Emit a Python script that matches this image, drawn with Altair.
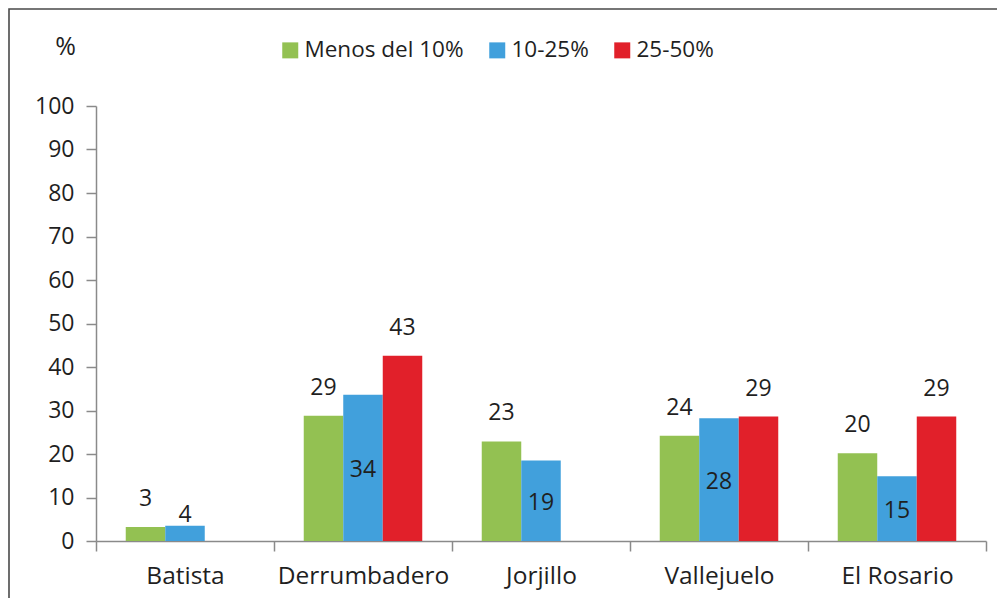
import altair as alt
import pandas as pd

categories = ["Batista", "Derrumbadero", "Jorjillo", "Vallejuelo", "El Rosario"]
series = ["Menos del 10%", "10-25%", "25-50%"]
colors = ["#93C152", "#41A0DC", "#E1202A"]

green_values = [3.2, 28.8, 22.9, 24.2, 20.2]
blue_values = [3.5, 33.6, 18.5, 28.2, 14.9]
red_values = [None, 42.6, None, 28.6, 28.6]

green_labels = ["3", "29", "23", "24", "20"]
blue_labels = ["4", "34", "19", "28", "15"]
red_labels = [None, "43", None, "29", "29"]

y_ticks = [0, 10, 20, 30, 40, 50, 60, 70, 80, 90, 100]

rows = []
for s, vals, labs in zip(series, [green_values, blue_values, red_values],
                         [green_labels, blue_labels, red_labels]):
    for c, v, l in zip(categories, vals, labs):
        if v is None:
            continue
        if s == "10-25%" and v > 10:
            place = "inside"
            ypos = v / 2
        elif s == "10-25%":
            place = "near"
            ypos = v
        else:
            place = "above"
            ypos = v
        rows.append({"cat": c, "series": s, "value": v, "label": l,
                     "place": place, "ypos": ypos})
df = pd.DataFrame(rows)

W, H = 890, 435
FONT = "Open Sans"
TXT = "#1f1f1f"
AX = "#8a8a8a"

x_enc = alt.X("cat:N", sort=categories,
              scale=alt.Scale(paddingInner=0, paddingOuter=0),
              axis=alt.Axis(title=None, labelAngle=0, tickBand="extent",
                            tickSize=10, labelPadding=13, labelFontSize=24.5,
                            labelFont=FONT, labelColor=TXT,
                            domainColor=AX, tickColor=AX, domainWidth=1.5,
                            tickWidth=1.5))
xoff_enc = alt.XOffset("series:N", sort=series,
                       scale=alt.Scale(domain=series, paddingOuter=0.753,
                                       paddingInner=0))

y_scale = alt.Scale(domain=[0, 100], nice=False)
y_axis = alt.Axis(values=y_ticks, title="%", titleAngle=0,
                  titleX=-31, titleY=-60, titleAlign="center",
                  titleBaseline="middle", titleFontSize=25,
                  titleFont=FONT, titleFontWeight="normal",
                  titleColor=TXT, labelFontSize=23, labelFont=FONT,
                  labelColor=TXT, tickSize=10, labelPadding=12,
                  domainColor=AX, tickColor=AX, grid=False,
                  domainWidth=1.5, tickWidth=1.5)

base = alt.Chart(df).encode(x=x_enc, xOffset=xoff_enc)

bars = base.mark_bar().encode(
    y=alt.Y("value:Q", scale=y_scale, axis=y_axis),
    color=alt.Color("series:N",
                    scale=alt.Scale(domain=series, range=colors),
                    legend=alt.Legend(title=None, orient="none",
                                      legendX=183, legendY=-67,
                                      direction="horizontal",
                                      symbolType="square", symbolSize=256,
                                      labelFontSize=22.5, labelFont=FONT,
                                      labelColor=TXT, columnPadding=22,
                                      labelOffset=3, padding=0,
                                      labelLimit=400,
                                      symbolStrokeWidth=0)),
)

def text_layer(place, dy):
    return base.mark_text(dy=dy, fontSize=23, font=FONT, color=TXT,
                          baseline="middle").encode(
        y=alt.Y("ypos:Q", scale=y_scale, axis=y_axis),
        text="label:N",
    ).transform_filter(f"datum.place == '{place}'")

above = text_layer("above", -28)
inside = text_layer("inside", 2)
near = text_layer("near", -11)

border = alt.Chart(pd.DataFrame({"a": [0]})).mark_rect(
    fillOpacity=0, stroke="#4a4a4a", strokeWidth=1.6
).encode(x=alt.value(-87), x2=alt.value(W + 100),
         y=alt.value(-97), y2=alt.value(H + 100))

chart = alt.layer(bars, above, inside, near, border).properties(
    width=W, height=H,
    padding={"left": 88, "top": 98, "right": 11, "bottom": 57},
    autosize="none",
).configure_view(strokeWidth=0)

chart.save("out.html", embed_options={"renderer": "svg", "actions": False})
